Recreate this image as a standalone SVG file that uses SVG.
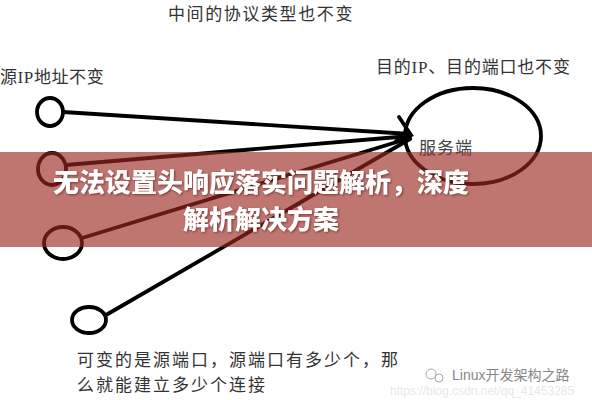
<svg xmlns="http://www.w3.org/2000/svg" width="592" height="400" viewBox="0 0 592 400">
<style>
.lbl{font-family:"Liberation Serif","Noto Sans CJK SC",serif;font-size:17px;fill:#333;letter-spacing:1.6px}
.node{fill:none;stroke:#000;stroke-width:3.8}
.conn{stroke:#000;stroke-width:3.8;fill:none;stroke-linecap:round}
.title{font-family:"Noto Sans CJK SC",sans-serif;font-weight:900;font-size:26px;fill:#fff;text-anchor:middle}
</style>
<rect width="592" height="400" fill="#fff"/>
<text class="lbl" x="168" y="20">中间的协议类型也不变</text>
<text class="lbl" x="0" y="83" style="letter-spacing:0.6px">源IP地址不变</text>
<text class="lbl" x="376" y="73" style="letter-spacing:0.8px">目的IP、目的端口也不变</text>
<g id="n-server">
<ellipse class="node" cx="473" cy="136" rx="68" ry="48"/>
<text class="lbl" x="419" y="154" style="fill:#444;letter-spacing:1px">服务端</text>
</g>
<g id="n-c1"><ellipse class="node" cx="50" cy="112" rx="13" ry="14"/></g>
<g id="n-c2"><ellipse class="node" cx="52" cy="169" rx="14" ry="16"/></g>
<g id="n-c3"><ellipse class="node" cx="63" cy="243" rx="19" ry="16"/></g>
<g id="n-c4"><ellipse class="node" cx="89" cy="320" rx="17" ry="13"/></g>
<g id="connectors">
<path class="conn" d="M63,112 L410,134"/>
<path class="conn" d="M66,165 L410,136"/>
<path class="conn" d="M82,238 L410,138"/>
<path class="conn" d="M106,315 L410,139"/>
<path class="conn" d="M399,117 L411,135 L396,141"/>
</g>
<text class="lbl" x="77" y="366" style="letter-spacing:2px">可变的是源端口，源端口有多少个，那</text>
<text class="lbl" x="77" y="391" style="letter-spacing:2px">么就能建立多少个连接</text>
<g id="watermark" font-family="'Liberation Sans','Noto Sans CJK SC',sans-serif">
<text x="390" y="395" font-size="12" fill="#e8e8e8">https://blog.csdn.net/qq_41453285</text>
<circle cx="431" cy="374" r="5" fill="none" stroke="#aaa" stroke-width="1"/>
<circle cx="439" cy="378" r="4" fill="none" stroke="#aaa" stroke-width="1"/>
<text x="452" y="380" font-size="14" fill="#888">Linux开发架构之路</text>
</g>
<rect x="0" y="152" width="592" height="95" fill="rgb(156,40,32)" fill-opacity="0.64"/>
<g id="title" style="filter:drop-shadow(1px 1px 1px rgba(60,0,0,0.5))">
<text class="title" x="261" y="192">无法设置头响应落实问题解析，深度</text>
<text class="title" x="261" y="229">解析解决方案</text>
</g>
</svg>
